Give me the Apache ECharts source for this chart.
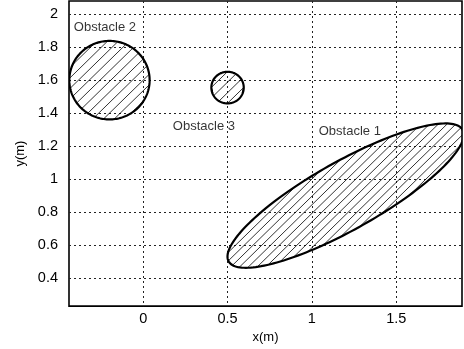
<!DOCTYPE html>
<html>
<head>
<meta charset="utf-8">
<script src="https://cdn.jsdelivr.net/npm/echarts@6/dist/echarts.min.js"></script>
<style>html,body{margin:0;padding:0;background:#fff}#c{width:464px;height:349px}</style>
</head>
<body>
<div id="c"></div>
<script>
// ---- data ----
var obstacleNames = ['Obstacle 1', 'Obstacle 2', 'Obstacle 3'];
var centerX = [1.2, -0.2, 0.5];
var centerY = [0.9, 1.6, 1.555];
var semiA = [0.8, 0.238, 0.096];
var semiB = [0.205, 0.238, 0.096];
var angleDeg = [30, 0, 0];
var hatchStep = [0.052, 0.064, 0.064];
var labelX = [1.225, -0.227, 0.36];
var labelY = [1.292, 1.917, 1.318];
var xTicks = [0, 0.5, 1, 1.5];
var yTicks = [0.4, 0.6, 0.8, 1, 1.2, 1.4, 1.6, 1.8, 2];
var xRange = [-0.44, 1.89];
var yRange = [0.23, 2.08];

var FONT = '"Liberation Sans", Arial, Helvetica, sans-serif';

function renderObstacle(params, api) {
  var i = params.dataIndex;
  var cx = api.value(0), cy = api.value(1), a = api.value(2), b = api.value(3);
  var th = api.value(4) * Math.PI / 180;
  var step = api.value(5);
  var ct = Math.cos(th), st = Math.sin(th);
  var children = [];
  // hatch lines y = x + c
  var R = Math.max(a, b) * 1.5;
  var cMin = Math.floor((cy - cx - 2 * R) / step) * step;
  var cMax = cy - cx + 2 * R;
  var a1 = ct + st, a2 = ct - st;
  for (var c = cMin; c <= cMax; c += step) {
    var e = c + cx - cy;
    var b1 = e * st, b2 = e * ct;
    var A = a1 * a1 / (a * a) + a2 * a2 / (b * b);
    var B = 2 * (a1 * b1 / (a * a) + a2 * b2 / (b * b));
    var C = b1 * b1 / (a * a) + b2 * b2 / (b * b) - 1;
    var D = B * B - 4 * A * C;
    if (D <= 0) continue;
    var sq = Math.sqrt(D);
    var d1 = (-B - sq) / (2 * A), d2 = (-B + sq) / (2 * A);
    var p1 = api.coord([cx + d1, cy + d1 + e]);
    var p2 = api.coord([cx + d2, cy + d2 + e]);
    children.push({
      type: 'line',
      shape: {x1: p1[0], y1: p1[1], x2: p2[0], y2: p2[1]},
      style: {stroke: '#000', lineWidth: 0.8}
    });
  }
  var pts = [];
  for (var k = 0; k < 180; k++) {
    var t = k / 180 * 2 * Math.PI;
    var px = cx + a * Math.cos(t) * ct - b * Math.sin(t) * st;
    var py = cy + a * Math.cos(t) * st + b * Math.sin(t) * ct;
    pts.push(api.coord([px, py]));
  }
  children.push({
    type: 'polygon',
    shape: {points: pts},
    style: {fill: 'none', stroke: '#000', lineWidth: 2.2}
  });
  return {type: 'group', children: children};
}

var obstacleData = obstacleNames.map(function (n, i) {
  return [centerX[i], centerY[i], semiA[i], semiB[i], angleDeg[i], hatchStep[i]];
});
var labelData = obstacleNames.map(function (n, i) {
  return {name: n, value: [labelX[i], labelY[i]]};
});

var chart = echarts.init(document.getElementById('c'), null, {renderer: 'canvas'});
chart.setOption({
  animation: false,
  backgroundColor: '#fff',
  grid: {left: 69, right: 2, top: 1, bottom: 37, show: true, borderColor: '#000', borderWidth: 1.6, backgroundColor: 'transparent'},
  xAxis: {
    type: 'value', min: xRange[0], max: xRange[1],
    axisLine: {show: false},
    axisTick: {show: false, customValues: xTicks},
    axisLabel: {customValues: xTicks, color: '#000', fontSize: 14.5, fontFamily: FONT, margin: 5,
      formatter: function (v) { return String(+v.toFixed(2)); }},
    splitLine: {show: true, lineStyle: {color: '#222', type: [2, 3], width: 1}},
    name: 'x(m)', nameLocation: 'middle', nameGap: 20,
    nameTextStyle: {color: '#000', fontSize: 13, fontFamily: FONT}
  },
  yAxis: {
    type: 'value', min: yRange[0], max: yRange[1],
    axisLine: {show: false},
    axisTick: {show: false, customValues: yTicks},
    axisLabel: {customValues: yTicks, color: '#000', fontSize: 14.5, fontFamily: FONT, margin: 11,
      formatter: function (v) { return String(+v.toFixed(2)); }},
    splitLine: {show: true, lineStyle: {color: '#222', type: [2, 3], width: 1}},
    name: 'y(m)', nameLocation: 'middle', nameGap: 40, nameRotate: 90,
    nameTextStyle: {color: '#000', fontSize: 13, fontFamily: FONT}
  },
  series: [
    {
      type: 'custom', name: 'obstacles', clip: true,
      renderItem: renderObstacle,
      data: obstacleData, silent: true
    },
    {
      type: 'scatter', symbolSize: 0, silent: true,
      data: labelData,
      label: {show: true, position: 'inside', formatter: '{b}', color: '#000', fontSize: 13, fontFamily: FONT}
    }
  ]
});
</script>
</body>
</html>
